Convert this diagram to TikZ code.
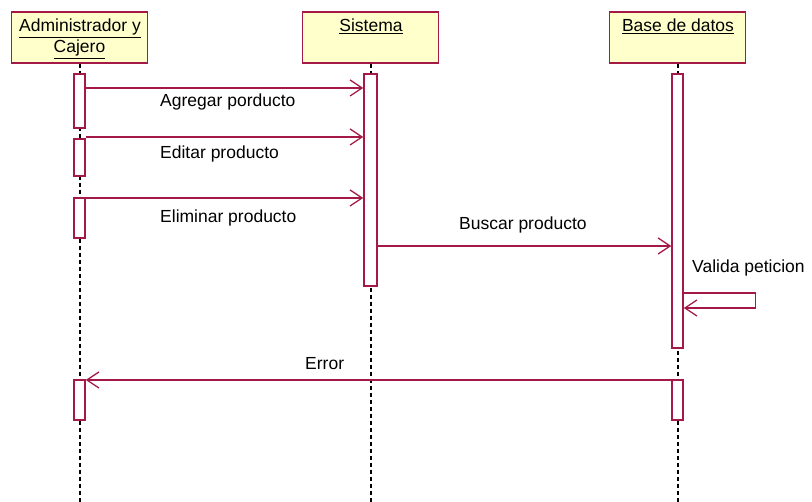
\documentclass[tikz,border=0pt]{standalone}
\usepackage{fontspec}
\setmainfont{Liberation Sans}
\usetikzlibrary{arrows.meta}
\definecolor{umlred}{RGB}{165,25,70}
\definecolor{umlyellow}{RGB}{255,255,204}

\begin{document}
\begin{tikzpicture}[x=1pt, y=-1pt,
	font=\fontsize{17.5}{21}\selectfont,
	head/.style={draw=umlred, fill=umlyellow, line width=1.5pt, minimum width=136pt, minimum height=51pt, inner sep=0pt},
	bar/.style={draw=umlred, fill=white, line width=1.5pt, minimum width=11pt, inner sep=0pt},
	life/.style={dash pattern=on 4pt off 3pt, line width=2pt, black},
	msg/.style={umlred, line width=1.3pt, -{Straight Barb[length=12pt, width=16pt, line width=1.3pt]}},
	txt/.style={anchor=base west, inner sep=0pt},
	htxt/.style={anchor=base, inner sep=0pt}]
	\useasboundingbox (0,0) rectangle (812,502);

	% cabeceras
	\node [head] (hA) at (79.5,37.5) {};
	\node [head] (hS) at (370.5,37.5) {};
	\node [head] (hB) at (677.5,37.5) {};
	\node [htxt] (tA1) at (80,32) {\underline{Administrador y}};
	\node [htxt] (tA2) at (79.5,53) {\underline{Cajero}};
	\node [htxt] (tS) at (371,32) {\underline{Sistema}};
	\node [htxt] (tB) at (678,32) {\underline{Base de datos}};

	% lineas de vida
	\coordinate (fin) at (0,502);
	\draw [life] (hA.south) -- (hA.south |- fin);
	\draw [life] (hS.south) -- (hS.south |- fin);
	\draw [life] (hB.south) -- (hB.south |- fin);

	% activaciones
	\node [bar, minimum height=54pt] (a1) at (79.5,101) {};
	\node [bar, minimum height=37pt] (a2) at (79.5,157.5) {};
	\node [bar, minimum height=40pt] (a3) at (79.5,218) {};
	\node [bar, minimum height=40pt] (a4) at (79.5,400) {};
	\node [bar, minimum height=212pt, minimum width=13pt] (s1) at (370.5,180) {};
	\node [bar, minimum height=274pt] (b1) at (677.5,211) {};
	\node [bar, minimum height=40pt] (b2) at (677.5,400) {};

	% mensajes
	\draw [msg] (a1.east |- 0,88) -- (s1.west |- 0,88);
	\draw [msg] (a2.east |- 0,137) -- (s1.west |- 0,137);
	\draw [msg] (a3.east |- 0,198) -- (s1.west |- 0,198);
	\draw [msg] (s1.east |- 0,246) -- (b1.west |- 0,246);
	\draw [msg] (b1.east |- 0,293) -- ++(72,0) |- (b1.east |- 0,308);
	\draw [msg] (b2.west |- 0,380) -- (a4.east |- 0,380);

	\node [txt] (l1) at (160,107) {Agregar porducto};
	\node [txt] (l2) at (160,159) {Editar producto};
	\node [txt] (l3) at (160,223) {Eliminar producto};
	\node [txt] (l4) at (459,230) {Buscar producto};
	\node [txt] (l5) at (692,273) {Valida peticion};
	\node [txt] (l6) at (305,370) {Error};
\end{tikzpicture}
\end{document}
